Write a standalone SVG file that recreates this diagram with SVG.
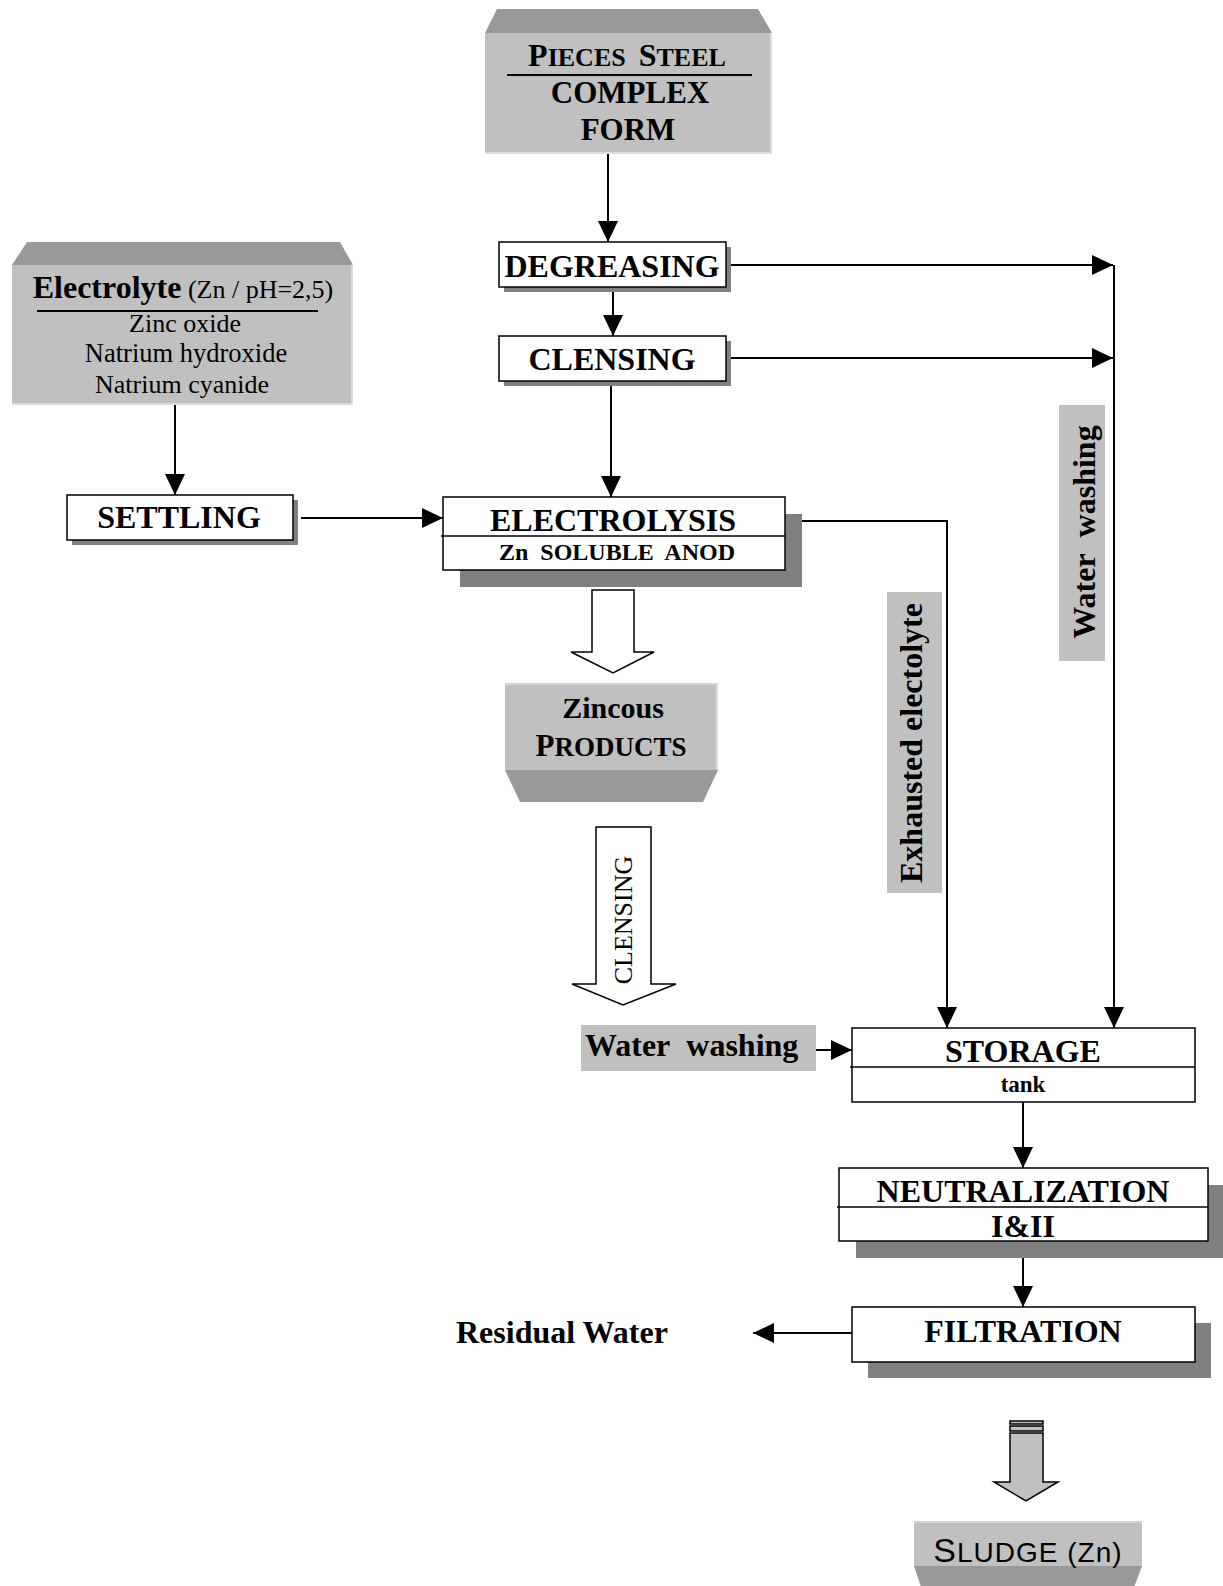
<svg xmlns="http://www.w3.org/2000/svg" width="1223" height="1586" viewBox="0 0 1223 1586">
<defs>
<style>
.box{fill:#fff;stroke:#000;stroke-width:1.5}
.sh{fill:#808080}
.g{fill:#c0c0c0}
.bev{fill:#999}
.hl{fill:none;stroke:#dcdcdc;stroke-width:2}
.t{font-family:"Liberation Serif","Times New Roman",serif;font-weight:bold;text-anchor:middle;fill:#000}
.r{font-weight:normal}
.ln{stroke:#000;stroke-width:2;fill:none}
.ha{fill:#fff;stroke:#000;stroke-width:1.5}
</style>
<marker id="ah" markerUnits="userSpaceOnUse" markerWidth="21" markerHeight="20" refX="21" refY="10" orient="auto">
<path d="M0,0 L21,10 L0,20 z" fill="#000"/>
</marker>
</defs>
<rect width="1223" height="1586" fill="#fff"/>

<g id="connectors">
<path class="ln" d="M608,154 V242" marker-end="url(#ah)"/>
<path class="ln" d="M613,287 V336" marker-end="url(#ah)"/>
<path class="ln" d="M611,381 V497" marker-end="url(#ah)"/>
<path class="ln" d="M175,405 V495" marker-end="url(#ah)"/>
<path class="ln" d="M301,518 H443" marker-end="url(#ah)"/>
<path class="ln" d="M726,265 H1113" marker-end="url(#ah)"/>
<path class="ln" d="M726,358 H1113" marker-end="url(#ah)"/>
<path class="ln" d="M1114,265 V1028" marker-end="url(#ah)"/>
<path class="ln" d="M785,521 H947 V1028" marker-end="url(#ah)"/>
<path class="ln" d="M816,1050 H852" marker-end="url(#ah)"/>
<path class="ln" d="M1023,1102 V1168" marker-end="url(#ah)"/>
<path class="ln" d="M1023,1241 V1307" marker-end="url(#ah)"/>
<path class="ln" d="M852,1333 H753" marker-end="url(#ah)"/>
<polygon class="ha" points="592,590 634,590 634,652 654,652 613,673 571,652 592,652"/>
<polygon class="ha" points="596,827 651,827 651,984 676,984 623,1005 572,984 596,984"/>
<g id="sludge-arrow" stroke="#000" stroke-width="1.5">
<rect x="1010" y="1421" width="33" height="3" fill="#c0c0c0"/>
<rect x="1010" y="1426" width="33" height="5" fill="#c0c0c0"/>
<polygon points="1010,1433 1043,1433 1043,1482 1058,1482 1026,1501 994,1482 1010,1482" fill="#c0c0c0"/>
</g>
</g>

<g id="pieces">
<polygon class="bev" points="497,9 758,9 772,33 485,33"/>
<rect class="g" x="485" y="33" width="287" height="121"/>
<path class="hl" d="M771,33 V153 H485"/>
<text class="t" x="627" y="66"><tspan style="font-size:32px">P</tspan><tspan style="font-size:26px">IECES&#160; </tspan><tspan style="font-size:32px">S</tspan><tspan style="font-size:26px">TEEL</tspan></text>
<line x1="507" y1="75" x2="752" y2="75" stroke="#000" stroke-width="2"/>
<text class="t" x="630" y="103" style="font-size:31px">COMPLEX</text>
<text class="t" x="628" y="140" style="font-size:31px">FORM</text>
</g>

<g id="electrolyte">
<polygon class="bev" points="27,242 340,242 353,265 12,265"/>
<rect class="g" x="12" y="265" width="341" height="140"/>
<path class="hl" d="M352,265 V404 H12"/>
<text class="t" x="183" y="298"><tspan style="font-size:32px">Electrolyte</tspan><tspan class="r" style="font-size:26px"> (Zn / pH=2,5)</tspan></text>
<line x1="37" y1="311" x2="318" y2="311" stroke="#000" stroke-width="2"/>
<text class="t r" x="185" y="332" style="font-size:26px">Zinc oxide</text>
<text class="t r" x="186" y="362" style="font-size:26.5px">Natrium hydroxide</text>
<text class="t r" x="182" y="393" style="font-size:26px">Natrium cyanide</text>
</g>

<g id="degreasing">
<rect class="sh" x="504" y="247" width="227" height="45"/>
<rect class="box" x="499" y="242" width="227" height="45"/>
<text class="t" x="612" y="277" style="font-size:32px">DEGREASING</text>
</g>

<g id="clensing">
<rect class="sh" x="504" y="341" width="227" height="45"/>
<rect class="box" x="499" y="336" width="227" height="45"/>
<text class="t" x="612" y="370" style="font-size:32px">CLENSING</text>
</g>

<g id="settling">
<rect class="sh" x="72" y="500" width="226" height="45"/>
<rect class="box" x="67" y="495" width="226" height="45"/>
<text class="t" x="179" y="528" style="font-size:32px">SETTLING</text>
</g>

<g id="electrolysis">
<rect class="sh" x="460" y="514" width="342" height="73"/>
<rect class="box" x="443" y="497" width="342" height="73"/>
<line x1="441" y1="536" x2="785" y2="536" stroke="#000" stroke-width="1.5"/>
<text class="t" x="613" y="531" style="font-size:32px">ELECTROLYSIS</text>
<text class="t" x="617" y="560" style="font-size:24px">Zn&#160; SOLUBLE&#160; ANOD</text>
</g>

<g id="zincous">
<rect class="g" x="505" y="683" width="213" height="87"/>
<path class="hl" d="M717,683 V769"/>
<line x1="505" y1="684" x2="718" y2="684" stroke="#d4d4d4" stroke-width="2"/>
<polygon class="bev" points="505,770 718,770 703,802 520,802"/>
<text class="t" x="613" y="718" style="font-size:30px">Zincous</text>
<text class="t" x="611" y="756"><tspan style="font-size:31px">P</tspan><tspan style="font-size:27px">RODUCTS</tspan></text>
</g>

<g id="exhausted-label">
<rect class="g" x="887" y="592" width="55" height="301"/>
<text class="t" transform="translate(922,743) rotate(-90)" style="font-size:32px">Exhausted electolyte</text>
</g>

<g id="water-washing-v">
<rect class="g" x="1059" y="405" width="46" height="256"/>
<text class="t" transform="translate(1095,532) rotate(-90)" style="font-size:32px">Water&#160; washing</text>
</g>

<text class="t r" transform="translate(632,920) rotate(-90)" style="font-size:26px">CLENSING</text>

<g id="water-washing-h">
<rect class="g" x="581" y="1025" width="235" height="46"/>
<text class="t" x="585" y="1056" style="text-anchor:start;font-size:32px">Water&#160; washing</text>
</g>

<g id="storage">
<rect class="box" x="852" y="1028" width="343" height="74"/>
<line x1="850" y1="1067" x2="1195" y2="1067" stroke="#000" stroke-width="1.5"/>
<text class="t" x="1023" y="1062" style="font-size:32px">STORAGE</text>
<text class="t" x="1023" y="1092" style="font-size:23px">tank</text>
</g>

<g id="neutralization">
<rect class="sh" x="856" y="1185" width="369" height="73"/>
<rect class="box" x="839" y="1168" width="369" height="73"/>
<line x1="837" y1="1207" x2="1208" y2="1207" stroke="#000" stroke-width="1.5"/>
<text class="t" x="1023" y="1202" style="font-size:32px">NEUTRALIZATION</text>
<text class="t" x="1023" y="1237" style="font-size:32px">I&amp;II</text>
</g>

<g id="filtration">
<rect class="sh" x="868" y="1323" width="343" height="55"/>
<rect class="box" x="852" y="1307" width="343" height="55"/>
<text class="t" x="1023" y="1342" style="font-size:32px">FILTRATION</text>
</g>

<g id="residual">
<text class="t" x="456" y="1343" style="text-anchor:start;font-size:32px">Residual Water</text>
</g>

<g id="sludge">
<rect class="g" x="914" y="1521" width="228" height="45"/>
<line x1="914" y1="1522" x2="1142" y2="1522" stroke="#d4d4d4" stroke-width="2"/>
<polygon class="bev" points="914,1566 1142,1566 1133,1590 922,1590"/>
<text x="1028" y="1562" text-anchor="middle" font-family="Liberation Sans, Arial, sans-serif" fill="#000" letter-spacing="1"><tspan font-size="34">S</tspan><tspan font-size="28">LUDGE (Zn)</tspan></text>
</g>
</svg>
